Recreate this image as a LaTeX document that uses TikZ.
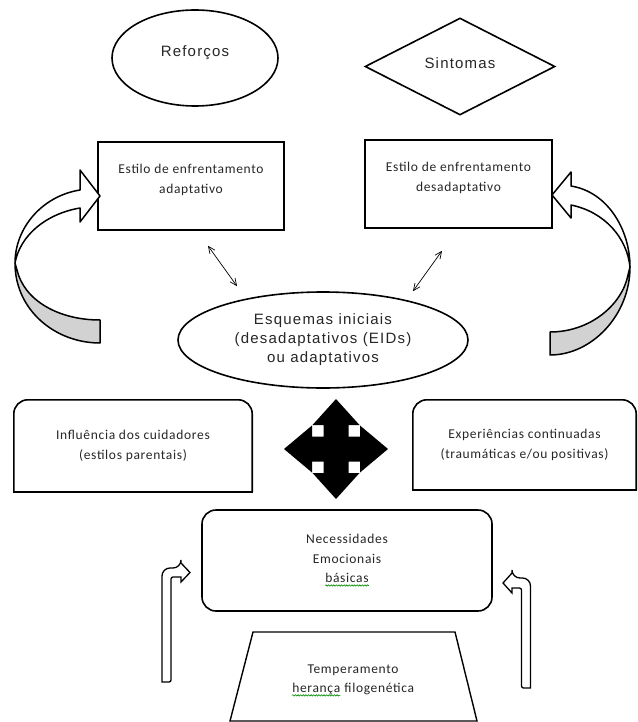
\documentclass[tikz,border=0pt]{standalone}
\usepackage{fontspec}
\setmainfont{Carlito}
\newfontfamily\arialsp[LetterSpace=8]{Liberation Sans}
\newfontfamily\calsp[LetterSpace=5]{Carlito}
\usetikzlibrary{arrows.meta,shapes.geometric,decorations.pathmorphing}

\tikzset{spellline/.style={green!55!black, line width=0.6pt, decorate,
  decoration={snake, amplitude=0.7pt, segment length=2.6pt}}}
\newcommand\spellmark[1]{\tikz[baseline=(sw.base)]{\node[inner sep=0pt] (sw) {#1};
  \draw[spellline] ([yshift=-2.6pt]sw.base west) -- ([yshift=-2.6pt]sw.base east);}}

\begin{document}
\begin{tikzpicture}[
  x=1pt, y=-1pt,
  >={Straight Barb[length=2.4mm, width=2.2mm]},
  edge/.style ={draw=black, line width=1.6pt},
  sqbox/.style={edge, inner sep=0pt},
  txt/.style  ={font=\calsp\fontsize{13.5}{19.5}\selectfont, align=center, text=black!85, inner sep=0pt},
  top/.style  ={edge, inner sep=0pt, font=\arialsp\fontsize{15}{19}\selectfont, align=center, text=black!85},
  toptxt/.style={inner sep=0pt, font=\arialsp\fontsize{15}{19}\selectfont, text=black!85},
  band/.style ={draw=black, line width=1.5pt, line join=round},
  hollow/.style={draw=black, line width=1.3pt, fill=white},
  dbl/.style  ={<->, line width=0.7pt},
]
\useasboundingbox (0,0) rectangle (637,722);

% ---------- top shapes ----------
\node[top, ellipse, minimum width=166pt, minimum height=96pt] (refor) at (195,58) {};
\node[toptxt] (refort) at ([yshift=5pt]refor.center) {Reforços};
\node[top, diamond, minimum width=190pt, minimum height=97pt] (sint) at (460,66.5) {};
\node[toptxt] (sintt) at ([yshift=3pt]sint.center) {Sintomas};

% ---------- coping styles ----------
\node[sqbox, minimum width=186pt, minimum height=88pt] (adapt) at (191,186) {};
\node[txt] (adaptt) at ([yshift=6pt]adapt.center) {Estilo de enfrentamento\\adaptativo};
\node[sqbox, minimum width=187pt, minimum height=88pt] (desad) at (458.5,184) {};
\node[txt] (desadt) at ([yshift=6pt]desad.center) {Estilo de enfrentamento\\desadaptativo};

% ---------- schemas ----------
\node[top, ellipse, minimum width=290pt, minimum height=96pt] (esq) at (323,340)
  {Esquemas iniciais\\(desadaptativos (EIDs)\\ou adaptativos};

\draw[dbl] ([xshift=17pt, yshift=-15pt]adapt.south) -- ([xshift=-86pt, yshift=5pt]esq.north);
\draw[dbl] ([xshift=-16.5pt, yshift=-22pt]desad.south) -- ([xshift=90pt, yshift=0pt]esq.north);

% ---------- curved arrows ----------
\filldraw[band, fill=gray!35] (15,263) .. controls (15,310) and (55,343) .. (100,343)
  -- (100,320) .. controls (58,320) and (24,300) .. (17,270) -- cycle;
\filldraw[band, fill=white] (80,190) -- (80,170) -- (100,196) -- (80,222) -- (80,208)
  .. controls (45,214) and (20,236) .. (15,263) .. controls (15,228) and (42,196) .. (80,190) -- cycle;

\filldraw[band, fill=gray!35] (630,267) .. controls (630,315) and (592,355) .. (550,355)
  -- (550,332) .. controls (590,332) and (622,305) .. (628,275) -- cycle;
\filldraw[band, fill=white] (571,186) -- (571,172) -- (552,195) -- (571,218) -- (571,205)
  .. controls (605,212) and (627,238) .. (630,267) .. controls (630,230) and (608,192) .. (571,186) -- cycle;

% ---------- influences ----------
\node[txt, minimum width=238pt, minimum height=92pt] (infl) at (133,446) {Influência dos cuidadores\\(estilos parentais)};
\draw[edge, rounded corners=14pt] (infl.south west) -- (infl.north west) -- (infl.north east) -- (infl.south east);
\draw[edge, line cap=rect] (infl.south west) -- (infl.south east);
\node[txt, minimum width=223pt, minimum height=90pt] (exper) at (524.5,445) {Experiências continuadas\\(traumáticas e/ou positivas)};
\draw[edge, rounded corners=14pt] (exper.south west) -- (exper.north west) -- (exper.north east) -- (exper.south east);
\draw[edge, line cap=rect] (exper.south west) -- (exper.south east);

% ---------- quad arrow ----------
\coordinate (quad) at (336,449);
\fill[shift={(quad)}] (0,-50) -- (23.5,-24) -- (12.5,-24) -- (12.5,-12.5) -- (24,-12.5) -- (24,-23.5)
  -- (52,0) -- (24,23.5) -- (24,12.5) -- (12.5,12.5) -- (12.5,24) -- (23.5,24)
  -- (0,50) -- (-23.5,24) -- (-12.5,24) -- (-12.5,12.5) -- (-24,12.5) -- (-24,23.5)
  -- (-52,0) -- (-24,-23.5) -- (-24,-12.5) -- (-12.5,-12.5) -- (-12.5,-24) -- (-23.5,-24) -- cycle;

% ---------- needs and temperament ----------
\node[sqbox, rounded corners=14pt, minimum width=290pt, minimum height=101pt] (necess) at (347,560.5) {};
\node[txt] (necesst) at (necess.center) {Necessidades\\Emocionais\\\spellmark{básicas}};

\draw[edge, line width=1.4pt] (253,632) -- (455,632) -- (477,721) -- (230,721) -- cycle;
\node[txt] (temper) at (353,680.5) {Temperamento\\\spellmark{herança} filogenética};

% ---------- bent arrows ----------
\draw[hollow] (162,682) [rounded corners=8pt] -- (162,568) -- (181,568) [sharp corners]
  -- (181,563) -- (190,572.5) -- (181,582) -- (181,577) [rounded corners=2pt] -- (171,577)
  -- (171,682) [sharp corners] -- cycle;
\draw[hollow] (530.5,688) [rounded corners=8pt] -- (530.5,578) -- (512,578) [sharp corners]
  -- (512,573) -- (503,583) -- (512,593) -- (512,588) [rounded corners=2pt] -- (521.5,588)
  -- (521.5,688) [sharp corners] -- cycle;

\end{tikzpicture}
\end{document}
